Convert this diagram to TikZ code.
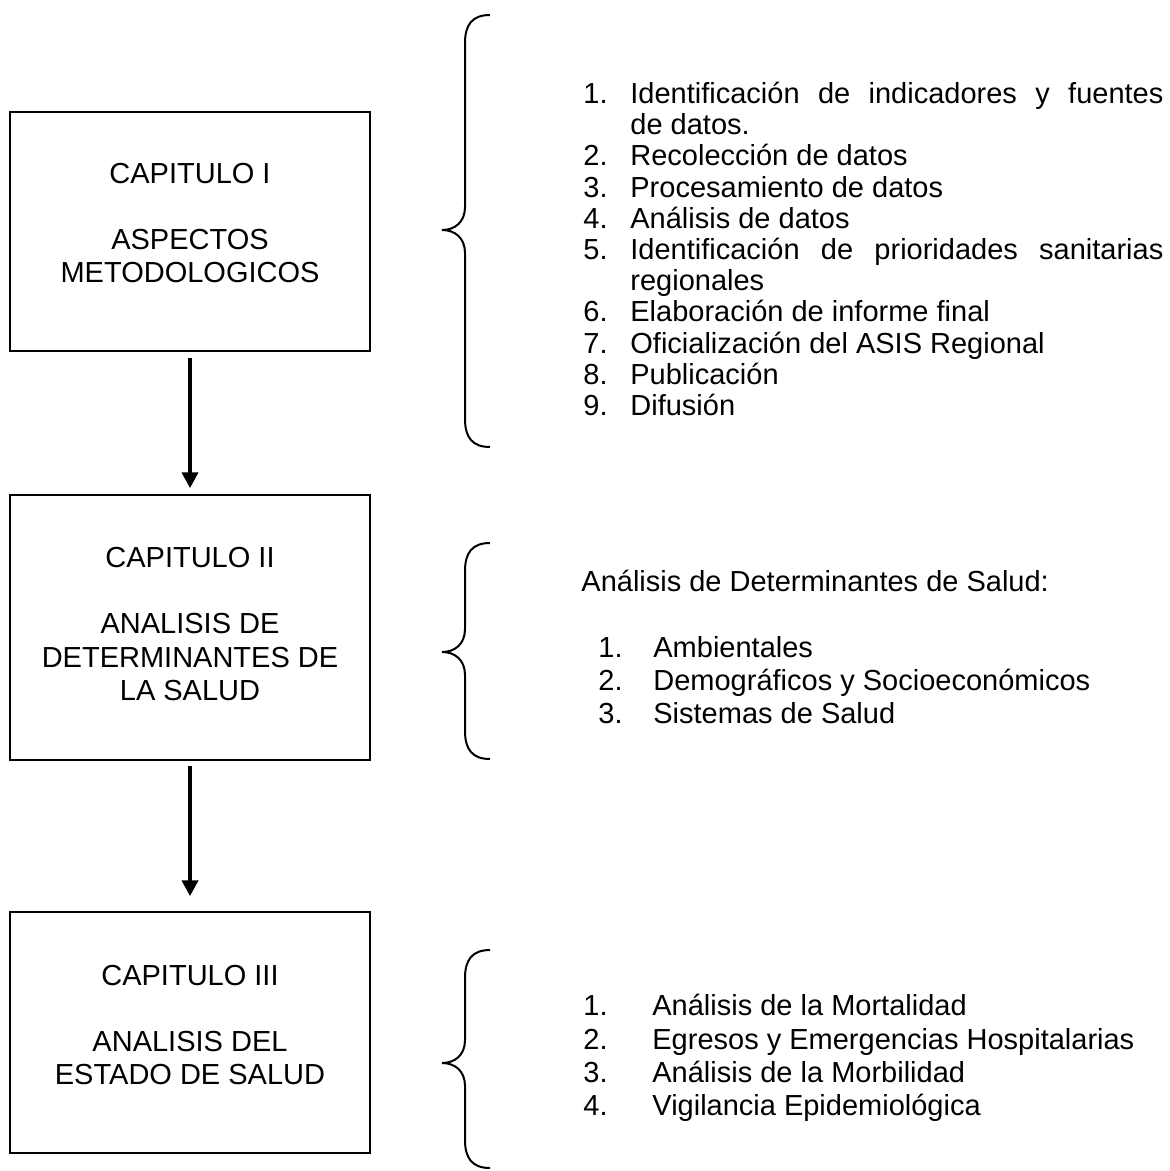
\documentclass[tikz,border=0pt]{standalone}
\usepackage{fontspec}
\setmainfont{Liberation Sans}
\usetikzlibrary{arrows.meta}

\newcommand{\nro}[2]{\makebox[#1][l]{#2}}
% curly brace: top, tip and bottom y
\newcommand{\llave}[3]{%
  \draw[corchete] (490,#1) .. controls (472,#1) and (465,#1+10) .. (465,#1+28)
    -- (465,#2-23) .. controls (465,#2-8) and (455,#2) .. (442,#2)
    .. controls (455,#2) and (465,#2+8) .. (465,#2+23)
    -- (465,#3-28) .. controls (465,#3-10) and (472,#3) .. (490,#3);}

\begin{document}
\begin{tikzpicture}[x=0.5pt, y=-0.5pt,
  font=\fontsize{14.5}{16.6}\selectfont,
  capbox/.style={rectangle, draw, line width=0.75pt, minimum width=180pt},
  captext/.style={align=center, inner sep=0pt},
  lista/.style={anchor=west, align=left, inner sep=0pt},
  flow/.style={-{Triangle[width=8pt,length=8pt]}, line width=2pt},
  corchete/.style={line width=1pt}]
  \useasboundingbox (0,0) rectangle (1170,1171);
  % Nodes
  \node (cap1) [capbox, minimum height=119.5pt] at (190, 231.5) {};
  \node (cap1-t) [captext] at (190, 223) {CAPITULO I\\[16.6pt]ASPECTOS\\METODOLOGICOS};
  \node (cap2) [capbox, minimum height=132.5pt] at (190, 627.5) {};
  \node (cap2-t) [captext] at (190, 624) {CAPITULO II\\[16.6pt]ANALISIS DE\\DETERMINANTES DE\\LA SALUD};
  \node (cap3) [capbox, minimum height=120.5pt] at (190, 1032.5) {};
  \node (cap3-t) [captext] at (190, 1025) {CAPITULO III\\[16.6pt]ANALISIS DEL\\ESTADO DE SALUD};

  \node (pasos) [lista, font=\fontsize{14.5}{15.6}\selectfont] at (583, 249) {%
    \nro{23.5pt}{1.}\makebox[266.5pt][s]{Identificación de indicadores y fuentes}\\
    \nro{23.5pt}{}de datos.\\
    \nro{23.5pt}{2.}Recolección de datos\\
    \nro{23.5pt}{3.}Procesamiento de datos\\
    \nro{23.5pt}{4.}Análisis de datos\\
    \nro{23.5pt}{5.}\makebox[266.5pt][s]{Identificación de prioridades sanitarias}\\
    \nro{23.5pt}{}regionales\\
    \nro{23.5pt}{6.}Elaboración de informe final\\
    \nro{23.5pt}{7.}Oficialización del ASIS Regional\\
    \nro{23.5pt}{8.}Publicación\\
    \nro{23.5pt}{9.}Difusión};
  \node (determ) [lista] at (581, 581) {Análisis de Determinantes de Salud:};
  \node (factores) [lista] at (598, 680) {%
    \nro{27.5pt}{1.}Ambientales\\
    \nro{27.5pt}{2.}Demográficos y Socioeconómicos\\
    \nro{27.5pt}{3.}Sistemas de Salud};
  \node (estado) [lista] at (583, 1058) {%
    \nro{34.5pt}{1.}Análisis de la Mortalidad\\
    \nro{34.5pt}{2.}Egresos y Emergencias Hospitalarias\\
    \nro{34.5pt}{3.}Análisis de la Morbilidad\\
    \nro{34.5pt}{4.}Vigilancia Epidemiológica};

  % Braces
  \llave{15}{230}{447}
  \llave{543}{652}{759}
  \llave{950}{1063}{1168}

  % Arrows
  \draw[flow] ([yshift=-3pt]cap1.south) -- ([yshift=3pt]cap2.north);
  \draw[flow] ([yshift=-2.5pt]cap2.south) -- ([yshift=7.5pt]cap3.north);
\end{tikzpicture}
\end{document}
